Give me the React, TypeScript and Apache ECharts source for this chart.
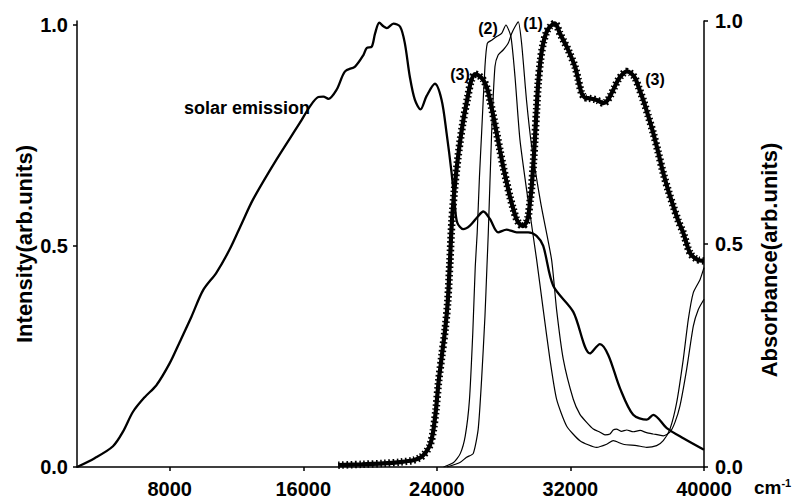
import React, { useEffect, useRef } from "react";
import * as echarts from "echarts";

// ---- data ----
const X_TICKS = [8000, 16000, 24000, 32000, 40000];
const Y_TICKS = [0, 0.5, 1.0];

// Solar emission (left axis, Intensity)
const solar: [number, number][] = [
  [2445, 0.0], [3500, 0.02], [4600, 0.047], [5200, 0.08], [5800, 0.125], [6500, 0.158],
  [7200, 0.185], [8000, 0.235], [8600, 0.283], [9300, 0.34], [10000, 0.4], [10800, 0.44],
  [11600, 0.493], [12300, 0.55], [13000, 0.606], [14400, 0.696], [15800, 0.779], [16400, 0.816],
  [16900, 0.837], [17200, 0.838], [17500, 0.833], [18000, 0.854], [18500, 0.895], [19100, 0.906],
  [19600, 0.932], [19800, 0.948], [20100, 0.951], [20300, 0.981], [20550, 1.005], [20800, 0.997],
  [21000, 0.993], [21400, 1.003], [21800, 0.996], [22080, 0.959], [22380, 0.883], [22680, 0.831],
  [23020, 0.809], [23380, 0.839], [23880, 0.867], [24280, 0.831], [24580, 0.756], [24880, 0.666],
  [25080, 0.591], [25220, 0.553], [25580, 0.538], [25980, 0.546], [26480, 0.568], [26780, 0.578],
  [27180, 0.561], [27670, 0.531], [28180, 0.537], [28780, 0.531], [29470, 0.531], [29970, 0.523],
  [30370, 0.5], [30970, 0.41], [32170, 0.351], [33170, 0.257], [33770, 0.278], [34270, 0.253],
  [34970, 0.178], [35760, 0.118], [36570, 0.107], [36960, 0.118], [37770, 0.088], [38760, 0.065],
  [40000, 0.039],
];

// Absorbance (1)
const abs1: [number, number][] = [
  [24600, 0.0], [25380, 0.01], [25780, 0.022], [26175, 0.03], [26475, 0.085], [26680, 0.197],
  [26880, 0.338], [27000, 0.45], [27080, 0.525], [27280, 0.749], [27480, 0.898], [27670, 0.924],
  [27970, 0.935], [28270, 0.95], [28480, 0.972], [28680, 0.987], [28875, 0.998], [29075, 0.95],
  [29375, 0.82], [29675, 0.72], [30230, 0.59], [30870, 0.465], [31170, 0.353], [31570, 0.242],
  [32170, 0.152], [32570, 0.118], [32970, 0.1], [33370, 0.085], [33770, 0.078], [34070, 0.072],
  [34370, 0.074], [34560, 0.083], [34760, 0.085], [35060, 0.08], [35370, 0.083], [35760, 0.079],
  [36170, 0.082], [36560, 0.077], [36960, 0.074], [37260, 0.072], [37560, 0.07], [37960, 0.078],
  [38260, 0.1], [38560, 0.137], [38960, 0.219], [39360, 0.316], [39660, 0.353], [40000, 0.376],
];

// Absorbance (2)
const abs2: [number, number][] = [
  [24400, 0.0], [25000, 0.01], [25400, 0.03], [25700, 0.07], [25950, 0.15], [26150, 0.3],
  [26300, 0.45], [26415, 0.525], [26550, 0.65], [26680, 0.749], [26880, 0.898], [27020, 0.95],
  [27280, 0.957], [27580, 0.965], [27880, 0.972], [28135, 0.991], [28435, 0.965], [28680, 0.875],
  [28975, 0.734], [29455, 0.6], [29975, 0.465], [30370, 0.353], [30770, 0.242], [31170, 0.152],
  [31770, 0.092], [32570, 0.059], [33570, 0.044], [34170, 0.051], [34565, 0.059], [35165, 0.051],
  [35965, 0.048], [36565, 0.044], [37165, 0.048], [37560, 0.059], [37960, 0.085], [38365, 0.145],
  [38760, 0.242], [39060, 0.331], [39360, 0.391], [39760, 0.42], [40000, 0.447],
];

// Absorbance (3)
const abs3: [number, number][] = [
  [18090, 0.004], [19500, 0.006], [20780, 0.008], [21800, 0.011], [22580, 0.015], [23000, 0.021],
  [23200, 0.027], [23400, 0.036], [23600, 0.05], [23780, 0.08], [23950, 0.13], [24100, 0.19],
  [24300, 0.25], [24500, 0.31], [24650, 0.37], [24780, 0.46], [24900, 0.55], [25050, 0.62],
  [25250, 0.69], [25550, 0.77], [25850, 0.83], [26050, 0.865], [26280, 0.881], [26500, 0.878],
  [26780, 0.868], [27000, 0.85], [27180, 0.823], [27380, 0.787], [27580, 0.749], [27780, 0.71],
  [27970, 0.674], [28170, 0.64], [28370, 0.607], [28580, 0.578], [28780, 0.555], [28950, 0.545],
  [29130, 0.54], [29350, 0.548], [29470, 0.562], [29580, 0.595], [29680, 0.629], [29780, 0.68],
  [29870, 0.734], [29970, 0.8], [30070, 0.861], [30200, 0.91], [30370, 0.95], [30570, 0.975],
  [30770, 0.987], [31070, 0.995], [31370, 0.972], [31600, 0.955], [31870, 0.935], [32270, 0.898],
  [32470, 0.868], [32670, 0.838], [32870, 0.828], [33070, 0.827], [33570, 0.823], [33970, 0.816],
  [34170, 0.82], [34370, 0.831], [34620, 0.85], [34860, 0.868], [35100, 0.88], [35370, 0.887],
  [35620, 0.883], [35870, 0.872], [36100, 0.85], [36360, 0.823], [36660, 0.787], [36960, 0.749],
  [37260, 0.705], [37560, 0.659], [37860, 0.62], [38160, 0.585], [38460, 0.552], [38760, 0.525],
  [39160, 0.48], [39600, 0.465], [40000, 0.462],
];

const FONT = "'Liberation Sans', Arial, sans-serif";

export default function App() {
  const ref = useRef<HTMLDivElement>(null);
  useEffect(() => {
    if (!ref.current) return;
    const chart = echarts.init(ref.current, undefined, { renderer: "svg" });
    const axisLine = { show: true, lineStyle: { color: "#000", width: 1.5 } };
    const tickStyle = { show: true, length: 4, lineStyle: { color: "#000", width: 1.5 } };
    const labelStyle = { color: "#000", fontWeight: "bold", fontFamily: FONT, fontSize: 20 };
    chart.setOption({
      animation: false,
      backgroundColor: "#fff",
      grid: { left: 77, right: 92, top: 21, bottom: 31 },
      xAxis: {
        type: "value",
        min: 2445,
        max: 40000,
        axisLine,
        axisTick: { ...tickStyle, customValues: X_TICKS },
        axisLabel: { ...labelStyle, margin: 12, customValues: X_TICKS, formatter: (v: number) => String(v) },
        splitLine: { show: false },
      },
      yAxis: [
        {
          type: "value",
          position: "left",
          min: 0,
          max: 1.009,
          axisLine,
          axisTick: { ...tickStyle, customValues: Y_TICKS },
          axisLabel: { ...labelStyle, margin: 9, customValues: Y_TICKS, formatter: (v: number) => v.toFixed(1) },
          splitLine: { show: false },
        },
        {
          type: "value",
          position: "right",
          min: 0,
          max: 1,
          axisLine,
          axisTick: { ...tickStyle, customValues: Y_TICKS },
          axisLabel: { ...labelStyle, margin: 11, customValues: Y_TICKS, formatter: (v: number) => v.toFixed(1) },
          splitLine: { show: false },
        },
      ],
      series: [
        {
          name: "solar emission", type: "line", yAxisIndex: 0, data: solar, showSymbol: false,
          smooth: 0.3, lineStyle: { color: "#000", width: 2.3 },
        },
        {
          name: "(1)", type: "line", yAxisIndex: 1, data: abs1, showSymbol: false,
          smooth: 0.2, lineStyle: { color: "#000", width: 1.2 },
        },
        {
          name: "(2)", type: "line", yAxisIndex: 1, data: abs2, showSymbol: false,
          smooth: 0.2, lineStyle: { color: "#000", width: 1.2 },
        },
        {
          name: "(3)", type: "line", yAxisIndex: 1, data: abs3, showSymbol: false,
          smooth: 0.3, lineStyle: { color: "#000", width: 4.2 },
        },
        {
          name: "(3) markers", type: "line", yAxisIndex: 1, data: abs3, showSymbol: false,
          smooth: 0.3, lineStyle: { color: "#000", width: 7.5, type: [1.6, 2.6] },
        },
      ],
      graphic: [
        { type: "text", x: 247, y: 108, style: { text: "solar emission", font: `bold 18px ${FONT}`, fill: "#000", textAlign: "center", textVerticalAlign: "middle" } },
        { type: "text", x: 488, y: 28, style: { text: "(2)", font: `bold 16px ${FONT}`, fill: "#000", textAlign: "center", textVerticalAlign: "middle" } },
        { type: "text", x: 533, y: 23, style: { text: "(1)", font: `bold 16px ${FONT}`, fill: "#000", textAlign: "center", textVerticalAlign: "middle" } },
        { type: "text", x: 460, y: 74, style: { text: "(3)", font: `bold 16px ${FONT}`, fill: "#000", textAlign: "center", textVerticalAlign: "middle" } },
        { type: "text", x: 655, y: 79, style: { text: "(3)", font: `bold 16px ${FONT}`, fill: "#000", textAlign: "center", textVerticalAlign: "middle" } },
        { type: "text", x: 24, y: 244, rotation: Math.PI / 2, style: { text: "Intensity(arb.units)", font: `bold 22px ${FONT}`, fill: "#000", textAlign: "center", textVerticalAlign: "middle" } },
        { type: "text", x: 769, y: 260, rotation: Math.PI / 2, style: { text: "Absorbance(arb.units)", font: `bold 22px ${FONT}`, fill: "#000", textAlign: "center", textVerticalAlign: "middle" } },
        {
          type: "text", x: 754, y: 487,
          style: {
            text: "{a|cm}{b|-1}",
            textVerticalAlign: "middle",
            rich: {
              a: { font: `bold 19px ${FONT}`, fill: "#000" },
              b: { font: `bold 11px ${FONT}`, fill: "#000", verticalAlign: "top", padding: [0, 0, 9, 0] },
            },
          },
        },
      ],
    });
    return () => chart.dispose();
  }, []);
  return (
    <div
      ref={ref}
      style={{ position: "fixed", left: 0, top: 0, width: 796, height: 499, background: "#fff" }}
    />
  );
}
